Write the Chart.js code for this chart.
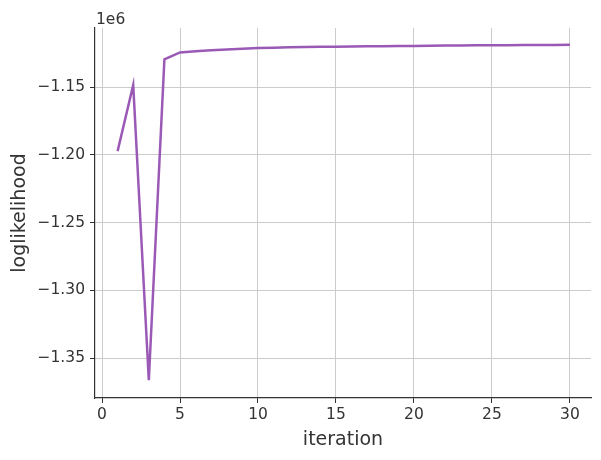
<!DOCTYPE html>
<html lang="en">
<head>
    <meta charset="UTF-8">
    <title>loglikelihood</title>
    <style>
        body { margin: 0; background: #fff; }
        #wrap { width: 601px; height: 460px; position: relative; }
    </style>
</head>
<body>
    <div id="wrap"><canvas id="llChart"></canvas></div>

    <script src="https://cdn.jsdelivr.net/npm/chart.js"></script>
    <script>
        // data
        const iterations = [1, 2, 3, 4, 5, 6, 7, 8, 9, 10, 11, 12, 13, 14, 15,
                            16, 17, 18, 19, 20, 21, 22, 23, 24, 25, 26, 27, 28, 29, 30];
        const loglik = [-1197300, -1148500, -1366400, -1129500, -1124400, -1123500, -1122800,
                        -1122200, -1121700, -1121200, -1120900, -1120600, -1120400, -1120300,
                        -1120200, -1120000, -1119900, -1119800, -1119700, -1119600, -1119500,
                        -1119400, -1119300, -1119200, -1119200, -1119100, -1119000, -1118900,
                        -1118900, -1118800];
        const xTicks = [0, 5, 10, 15, 20, 25, 30];
        const yTicks = [-1350000, -1300000, -1250000, -1200000, -1150000];

        const fnt = "'DejaVu Sans', sans-serif";
        const textCol = '#333333';

        const offsetText = {
            id: 'offsetText',
            afterDraw(chart) {
                const c = chart.ctx, a = chart.chartArea;
                c.save();
                c.font = '15.5px ' + fnt;
                c.fillStyle = textCol;
                c.textBaseline = 'alphabetic';
                c.fillText('1e6', a.left + 1, a.top - 4);
                c.restore();
            }
        };

        const ctx = document.getElementById('llChart').getContext('2d');
        new Chart(ctx, {
            type: 'line',
            data: {
                datasets: [{
                    data: iterations.map((it, i) => ({ x: it, y: loglik[i] })),
                    borderColor: '#9b59b6',
                    borderWidth: 2.5,
                    pointRadius: 0,
                    tension: 0,
                    fill: false
                }]
            },
            options: {
                responsive: true,
                maintainAspectRatio: false,
                animation: false,
                layout: { padding: { top: 28, right: 10, left: 0, bottom: 0 } },
                plugins: {
                    legend: { display: false },
                    tooltip: { enabled: false }
                },
                scales: {
                    x: {
                        type: 'linear',
                        min: -0.45,
                        max: 31.35,
                        afterBuildTicks: s => { s.ticks = xTicks.map(v => ({ value: v })); },
                        afterFit: s => { s.height = 62; },
                        grid: { color: '#cccccc', tickColor: textCol, tickLength: 5, lineWidth: 1 },
                        border: { color: textCol, width: 1.2 },
                        ticks: { color: textCol, font: { family: fnt, size: 15.5 }, padding: 3 },
                        title: { display: true, text: 'iteration', color: textCol,
                                 font: { family: fnt, size: 19 }, padding: { top: 4, bottom: 9 } }
                    },
                    y: {
                        min: -1379500,
                        max: -1106400,
                        afterBuildTicks: s => { s.ticks = yTicks.map(v => ({ value: v })); },
                        afterFit: s => { s.width = 95; },
                        grid: { color: '#cccccc', tickColor: textCol, tickLength: 5, lineWidth: 1 },
                        border: { color: textCol, width: 1.2 },
                        ticks: {
                            color: textCol,
                            font: { family: fnt, size: 15.5 },
                            padding: 5,
                            callback: v => (v / 1e6).toFixed(2).replace('-', '\u2212')
                        },
                        title: { display: true, text: 'loglikelihood', color: textCol,
                                 font: { family: fnt, size: 19 }, padding: { top: 9, bottom: 2 } }
                    }
                }
            },
            plugins: [offsetText]
        });
    </script>
</body>
</html>
